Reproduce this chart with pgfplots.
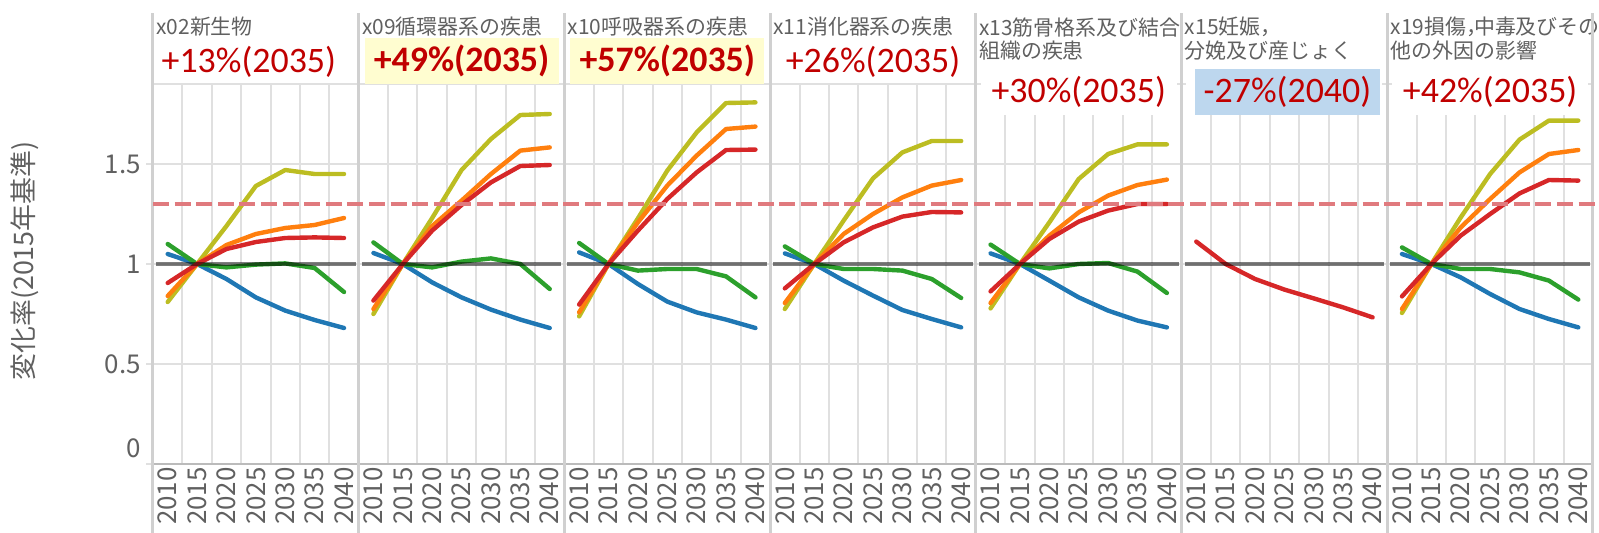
\documentclass[border=0pt]{standalone}
\usepackage{pgfplots}
\pgfplotsset{compat=1.18}
\usepackage{pgfplotstable}
\usepackage{fontspec}
\setmainfont{Noto Sans CJK JP}
\newfontfamily\annfont{Carlito}

\definecolor{tblue}{RGB}{31,119,180}
\definecolor{tgreen}{RGB}{44,160,44}
\definecolor{tolive}{RGB}{188,189,34}
\definecolor{torange}{RGB}{255,127,14}
\definecolor{tred}{RGB}{214,39,40}
\definecolor{gridc}{RGB}{224,224,224}
\definecolor{sepc}{RGB}{208,208,208}
\definecolor{txtc}{RGB}{96,96,96}
\definecolor{annred}{RGB}{192,0,0}
\definecolor{hlyel}{RGB}{255,253,208}
\definecolor{hlblue}{RGB}{189,215,238}
\definecolor{dashc}{RGB}{224,122,126}

% change rate vs 2015, one table per panel
\pgfplotstableread{
year blue  green olive orange red
2010 1.050 1.100 0.810 0.840 0.905
2015 1.000 1.000 1.000 1.000 1.000
2020 0.925 0.983 1.190 1.095 1.075
2025 0.833 0.997 1.390 1.150 1.110
2030 0.767 1.003 1.470 1.180 1.130
2035 0.720 0.980 1.450 1.195 1.133
2040 0.680 0.860 1.450 1.230 1.130
}\tA
\pgfplotstableread{
year blue  green olive orange red
2010 1.055 1.108 0.750 0.775 0.817
2015 1.000 1.000 1.000 1.000 1.000
2020 0.908 0.983 1.230 1.190 1.167
2025 0.833 1.012 1.470 1.317 1.295
2030 0.772 1.028 1.625 1.450 1.408
2035 0.722 1.000 1.745 1.567 1.490
2040 0.680 0.875 1.750 1.583 1.495
}\tB
\pgfplotstableread{
year blue  green olive orange red
2010 1.058 1.105 0.738 0.758 0.797
2015 1.000 1.000 1.000 1.000 1.000
2020 0.900 0.967 1.228 1.208 1.167
2025 0.812 0.975 1.467 1.392 1.325
2030 0.758 0.975 1.658 1.542 1.458
2035 0.722 0.938 1.805 1.675 1.570
2040 0.680 0.833 1.808 1.687 1.572
}\tC
\pgfplotstableread{
year blue  green olive orange red
2010 1.053 1.088 0.775 0.805 0.878
2015 1.000 1.000 1.000 1.000 1.000
2020 0.917 0.975 1.217 1.150 1.108
2025 0.842 0.975 1.428 1.250 1.183
2030 0.770 0.967 1.558 1.333 1.237
2035 0.725 0.925 1.615 1.392 1.260
2040 0.683 0.830 1.615 1.420 1.258
}\tD
\pgfplotstableread{
year blue  green olive orange red
2010 1.053 1.097 0.778 0.805 0.863
2015 1.000 1.000 1.000 1.000 1.000
2020 0.917 0.978 1.208 1.142 1.125
2025 0.833 1.000 1.425 1.258 1.212
2030 0.767 1.005 1.550 1.342 1.267
2035 0.717 0.962 1.598 1.395 1.300
2040 0.683 0.855 1.598 1.422 1.300
}\tE
\pgfplotstableread{
year red
2010 1.112
2015 1.000
2020 0.925
2025 0.872
2030 0.828
2035 0.783
2040 0.733
}\tF
\pgfplotstableread{
year blue  green olive orange red
2010 1.050 1.083 0.755 0.775 0.838
2015 1.000 1.000 1.000 1.000 1.000
2020 0.933 0.975 1.233 1.183 1.142
2025 0.850 0.975 1.450 1.325 1.250
2030 0.775 0.958 1.622 1.458 1.353
2035 0.725 0.917 1.717 1.550 1.420
2040 0.683 0.822 1.717 1.570 1.417
}\tG

\pgfplotsset{
  panel/.style={
    anchor=south west, scale only axis,
    width=102.857bp, height=190bp,
    xmin=2007.5, xmax=2042.5, ymin=0, ymax=1.9,
    xtick={2010,2015,2020,2025,2030,2035,2040},
    xticklabels={2010,2015,2020,2025,2030,2035,2040},
    minor xtick={2012.5,2017.5,2022.5,2027.5,2032.5,2037.5},
    ytick={0.5,1,1.5}, yticklabels={},
    xminorgrids=true, ymajorgrids=true,
    minor grid style={gridc, line width=1bp},
    major grid style={gridc, line width=1bp},
    axis line style={draw=none},
    tick style={draw=none},
    xticklabel style={rotate=90, anchor=east, inner sep=1.5bp, text=txtc,
      font=\fontsize{13}{13}\selectfont},
    yticklabel style={anchor=east, inner sep=0pt, xshift=-6bp, text=txtc,
      font=\fontsize{13}{13}\selectfont},
    clip=false,
    every axis plot/.append style={line width=2.2bp, line join=round, line cap=round},
  },
}
\tikzset{
  ptitle/.style={anchor=north west, align=left, inner sep=0pt, text=txtc,
    font=\fontsize{10.5}{11.8}\selectfont},
  pann/.style={inner sep=0pt, text=annred, minimum height=23bp,
    font=\annfont\fontsize{18}{18}\selectfont},
}

\newcommand{\fivelines}[1]{%
  \addplot[tblue] table[x=year,y=blue]{#1};
  \addplot[tgreen] table[x=year,y=green]{#1};
  \addplot[tolive] table[x=year,y=olive]{#1};
  \addplot[torange] table[x=year,y=orange]{#1};
  \addplot[tred] table[x=year,y=red]{#1};
}
\newcommand{\frameit}{%
  \draw[black, opacity=0.5, line width=2.2bp] (axis cs:2008,1) -- (axis cs:2042,1);
  \draw[gridc, line width=1bp] (rel axis cs:0,1) -- (rel axis cs:1,1);
  \draw[sepc!90!black, line width=1bp] (rel axis cs:0,0) -- (rel axis cs:1,0);
}
\newcommand{\sepleft}{%
  \draw[sepc, line width=1.5bp] ([yshift=-34.5bp]rel axis cs:0,0) -- ([yshift=35.5bp]rel axis cs:0,1);
}

\begin{document}
\begin{tikzpicture}
\path[use as bounding box] (-76.5bp,-34.5bp) rectangle (723bp,232bp);

\begin{axis}[panel, at={(0bp,0bp)}, yticklabels={0.5,1,1.5},
  extra y ticks={0}, extra y tick labels={0},
  extra y tick style={yticklabel style={yshift=8bp}}]
\fivelines{\tA}
\frameit
\draw[gridc, line width=1bp] ([xshift=-3.5bp]axis cs:2007.5,0.5) -- (axis cs:2007.5,0.5);
\draw[gridc, line width=1bp] ([xshift=-3.5bp]axis cs:2007.5,1) -- (axis cs:2007.5,1);
\draw[gridc, line width=1bp] ([xshift=-3.5bp]axis cs:2007.5,1.5) -- (axis cs:2007.5,1.5);
\draw[gridc, line width=1bp] ([xshift=-3.5bp]axis cs:2007.5,0) -- (axis cs:2007.5,0);
\node[ptitle] at ([shift={(1.5bp,33.5bp)}]rel axis cs:0,1) {x02新生物};
\node[pann] at ([shift={(-3.5bp,11bp)}]rel axis cs:0.5,1) {+13\%(2035)};
\node[rotate=90, inner sep=0pt, text=txtc, font=\fontsize{13.5}{13.5}\selectfont]
  at ([shift={(-64bp,101.5bp)}]rel axis cs:0,0) {変化率(2015年基準)};
\sepleft
\end{axis}

\begin{axis}[panel, at={(102.857bp,0bp)}]
\fivelines{\tB}
\frameit
\node[ptitle] at ([shift={(1.5bp,33.5bp)}]rel axis cs:0,1) {x09循環器系の疾患};
\node[pann, fill=hlyel, minimum width=97bp, font=\annfont\bfseries\fontsize{18}{18}\selectfont]
  at ([yshift=11.5bp]rel axis cs:0.5,1) {+49\%(2035)};
\sepleft
\end{axis}

\begin{axis}[panel, at={(205.714bp,0bp)}]
\fivelines{\tC}
\frameit
\node[ptitle] at ([shift={(1.5bp,33.5bp)}]rel axis cs:0,1) {x10呼吸器系の疾患};
\node[pann, fill=hlyel, minimum width=97bp, font=\annfont\bfseries\fontsize{18}{18}\selectfont]
  at ([yshift=11.5bp]rel axis cs:0.5,1) {+57\%(2035)};
\sepleft
\end{axis}

\begin{axis}[panel, at={(308.571bp,0bp)}]
\fivelines{\tD}
\frameit
\node[ptitle] at ([shift={(1.5bp,33.5bp)}]rel axis cs:0,1) {x11消化器系の疾患};
\node[pann] at ([yshift=11bp]rel axis cs:0.5,1) {+26\%(2035)};
\sepleft
\end{axis}

\begin{axis}[panel, at={(411.429bp,0bp)}]
\fivelines{\tE}
\frameit
\node[ptitle] at ([shift={(1.5bp,33.5bp)}]rel axis cs:0,1) {x13筋骨格系及び結合\\組織の疾患};
\node[pann, fill=white, minimum width=98bp] at ([yshift=-4bp]rel axis cs:0.5,1) {+30\%(2035)};
\sepleft
\end{axis}

\begin{axis}[panel, at={(514.286bp,0bp)}]
\addplot[tred] table[x=year,y=red]{\tF};
\frameit
\node[ptitle] at ([shift={(1.5bp,33.5bp)}]rel axis cs:0,1) {x15妊娠，\\分娩及び産じょく};
\node[pann, fill=white, minimum width=98bp] at ([yshift=-4bp]rel axis cs:0.5,1) {};
\node[pann, fill=hlblue, minimum width=92.5bp] at ([shift={(1.5bp,-4bp)}]rel axis cs:0.5,1) {-27\%(2040)};
\sepleft
\end{axis}

\begin{axis}[panel, at={(617.143bp,0bp)}]
\fivelines{\tG}
\frameit
\node[ptitle] at ([shift={(1.5bp,33.5bp)}]rel axis cs:0,1) {x19損傷，\kern-0.62em 中毒及びその\\他の外因の影響};
\node[pann, fill=white, minimum width=98bp] at ([yshift=-4bp]rel axis cs:0.5,1) {+42\%(2035)};
\sepleft
\draw[sepc, line width=1.5bp] ([yshift=-34.5bp]rel axis cs:1,0) -- ([yshift=35.5bp]rel axis cs:1,1);
% threshold line across all panels
\draw[dashc, line width=2.3bp, dash pattern=on 8bp off 2.8bp] (axis cs:1797.5,1.3) -- (axis cs:2043.5,1.3);
\end{axis}
\end{tikzpicture}
\end{document}
